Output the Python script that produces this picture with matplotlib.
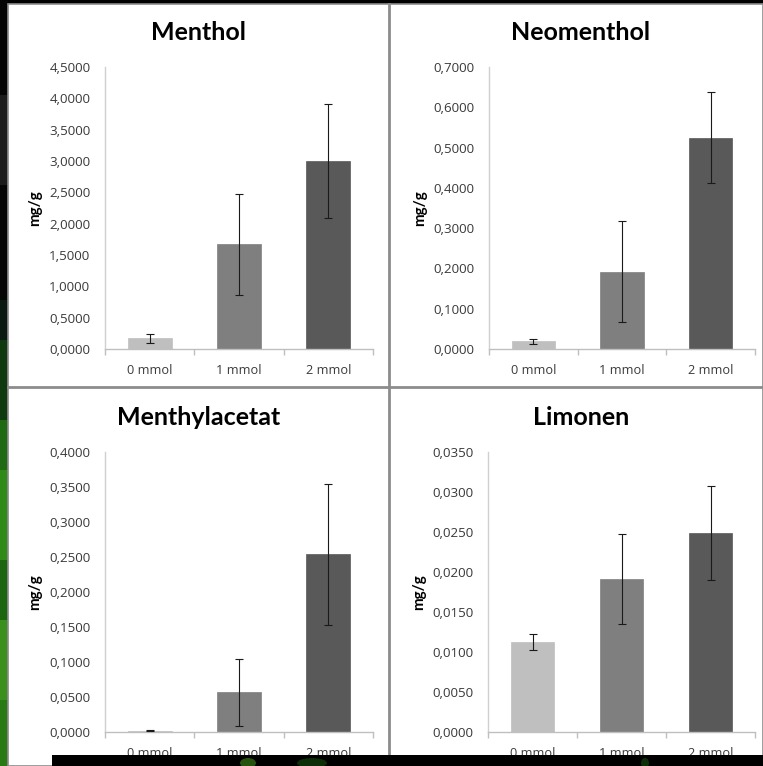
import matplotlib
matplotlib.use('Agg')
import matplotlib.pyplot as plt
from matplotlib.patches import Rectangle, Ellipse

# concentrations (x categories)
groups = ['0 mmol', '1 mmol', '2 mmol']
bar_colors = ['#bfbfbf', '#7f7f7f', '#595959']

# mean content in mg/g and standard deviation per compound
menthol = [0.17, 1.67, 3.00]
menthol_sd = [0.07, 0.81, 0.91]
neomenthol = [0.019, 0.192, 0.525]
neomenthol_sd = [0.007, 0.126, 0.112]
menthylacetat = [0.002, 0.057, 0.254]
menthylacetat_sd = [0.001, 0.048, 0.101]
limonen = [0.0112, 0.0191, 0.0249]
limonen_sd = [0.0010, 0.0056, 0.0059]

# y scale of each panel: (max, step)
menthol_scale = (4.5, 0.5)
neomenthol_scale = (0.7, 0.1)
menthylacetat_scale = (0.4, 0.05)
limonen_scale = (0.035, 0.005)

W, H = 763, 766
fig = plt.figure(figsize=(W / 100, H / 100), dpi=100)
fig.patch.set_facecolor('black')


def px(x0, y0, x1, y1):
    # pixel box (from top-left) -> figure fraction rect
    return [x0 / W, 1 - y1 / H, (x1 - x0) / W, (y1 - y0) / H]


# dark background with a green strip on the left
bg = fig.add_axes([0, 0, 1, 1])
bg.set_xlim(0, W)
bg.set_ylim(H, 0)
bg.axis('off')
strip = [(0, '#050505'), (95, '#1c1c1c'), (185, '#060606'), (300, '#0b1a10'),
         (340, '#0f3a10'), (420, '#1f6a12'), (470, '#2f8a18'), (560, '#1d6610'),
         (620, '#3b8f1c'), (700, '#2a7a14')]
for i, (y, c) in enumerate(strip):
    y_end = strip[i + 1][0] if i + 1 < len(strip) else H
    bg.add_patch(Rectangle((0, y), 8, y_end - y, color=c, lw=0))
bg.add_patch(Rectangle((8, 4), W - 8, H - 4, facecolor='white',
                       edgecolor='#8c8c8c', lw=1.2))
bg.plot([389, 389], [4, H], color='#8c8c8c', lw=2)
bg.plot([8, W], [386.5, 386.5], color='#8c8c8c', lw=2)


def fmt(v):
    return f'{v:.4f}'.replace('.', ',')


def panel(box, title, title_xy, ylab_x, values, sd, scale):
    ax = fig.add_axes(px(*box))
    x = list(range(len(groups)))
    ax.bar(x, values, width=0.49, color=bar_colors, edgecolor=bar_colors, lw=0.5, zorder=2)
    ax.errorbar(x, values, yerr=sd, fmt='none', ecolor='#1a1a1a', elinewidth=0.8,
                capsize=3, capthick=0.8, zorder=3)
    top, step = scale
    ticks = [i * step for i in range(round(top / step) + 1)]
    ax.set_ylim(0, top)
    ax.set_xlim(-0.5, 2.5)
    ax.set_yticks(ticks)
    ax.set_yticklabels([fmt(t) for t in ticks], fontsize=9.6, family='Open Sans',
                       color='#3a3a3a')
    ax.set_xticks(x)
    ax.set_xticklabels(groups, fontsize=9.2, family='Open Sans', color='#3a3a3a')
    ax.set_xticks([-0.5, 0.5, 1.5, 2.5], minor=True)
    ax.tick_params(axis='y', length=0, pad=10.5)
    ax.tick_params(axis='x', which='major', length=0, pad=10.5)
    ax.tick_params(axis='x', which='minor', length=4, color='#bfbfbf', width=1)
    for s in ['top', 'right']:
        ax.spines[s].set_visible(False)
    ax.spines['left'].set_color('#d0d0d0')
    ax.spines['bottom'].set_color('#bfbfbf')
    ax.spines['left'].set_linewidth(1)
    ax.spines['bottom'].set_linewidth(1)
    ax.set_facecolor('none')
    bg.text(title_xy[0], title_xy[1], title, ha='center', va='center',
            fontsize=18, fontweight='bold', family='Lato', color='black')
    y_mid = (box[1] + box[3]) / 2
    bg.text(ylab_x, y_mid, 'mg/g', rotation=90, ha='center', va='center',
            fontsize=11, fontweight='bold', family='Lato', color='black')
    return ax


panel((105, 67, 373, 349), 'Menthol', (198.5, 32), 35, menthol, menthol_sd, menthol_scale)
panel((489, 67, 755, 349), 'Neomenthol', (581, 32), 420, neomenthol, neomenthol_sd, neomenthol_scale)
panel((105, 452, 373, 732), 'Menthylacetat', (198.5, 417.5), 35, menthylacetat,
      menthylacetat_sd, menthylacetat_scale)
panel((488, 452, 755, 732), 'Limonen', (581, 417.5), 419, limonen, limonen_sd, limonen_scale)

# black bar across the bottom edge, with a few faint green glints
cover = fig.add_axes([0, 0, 1, 1], facecolor='none')
cover.set_xlim(0, W)
cover.set_ylim(H, 0)
cover.axis('off')
cover.add_patch(Rectangle((52, 755), W - 52, H - 755, color='black', lw=0))
for cx, w, c in [(248, 16, '#3f8a18'), (312, 30, '#174a0e'), (645, 8, '#16500e')]:
    cover.add_patch(Ellipse((cx, 763), w, 10, color=c, lw=0, alpha=0.6))

fig.savefig('out.png', dpi=100, facecolor=fig.get_facecolor())
